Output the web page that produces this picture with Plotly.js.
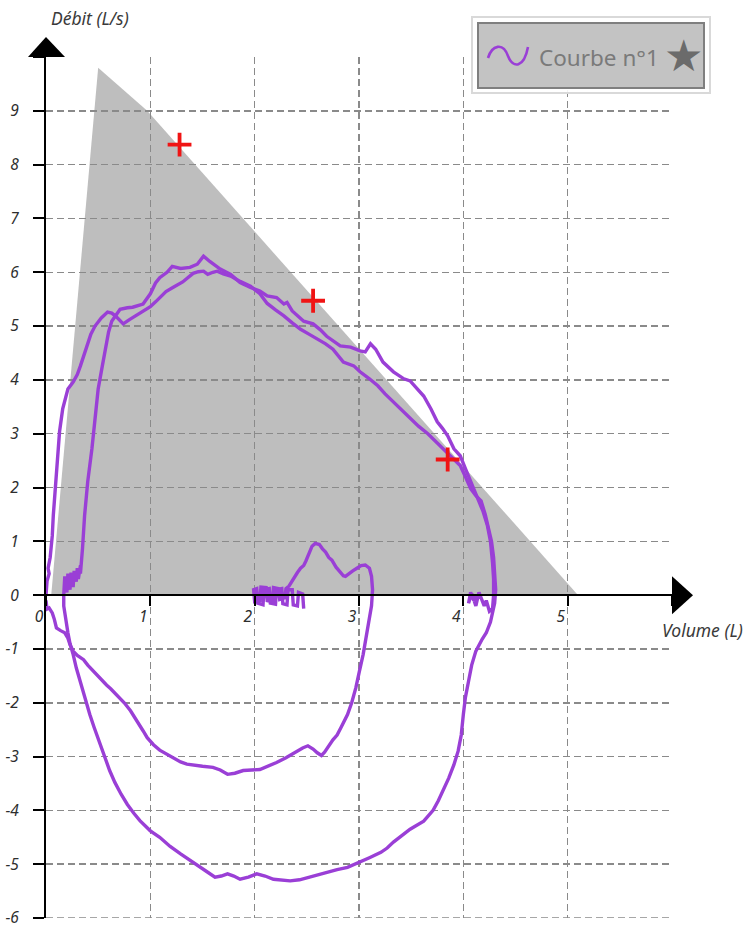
<!DOCTYPE html>
<html>
<head>
<meta charset="utf-8">
<script src="https://cdn.plot.ly/plotly-3.0.1.min.js"></script>
<style>html,body{margin:0;padding:0;background:#fff;}#chart{width:748px;height:929px;}</style>
</head>
<body>
<div id="chart"></div>
<script>
// ---- Data ----
// Tidal breathing, small expiration and first inspiration
const tidalVolume = [2.47,2.46,2.42,2.41,2.37,2.36,2.32,2.31,2.27,2.26,2.21,2.2,2.15,2.14,2.09,2.08,2.03,2.02,1.99,2.0,2.05,2.06,2.11,2.12,2.17,2.18,2.23,2.24,2.29,2.3,2.33,
 2.35,2.37,2.41,2.44,2.47,2.49,2.52,2.55,2.58,2.62,2.65,2.68,2.71,2.74,2.78,2.82,2.85,2.87,2.9,2.94,2.98,3.02,3.06,3.1,3.12,3.13,3.12,3.1,3.07,3.04,3.0,2.97,2.93,2.89,2.83,2.79,2.75,2.71,2.67,2.64,2.6,2.56,2.51,2.46,2.41,2.37,2.3,2.21,2.13,2.05,1.97,1.89,1.81,1.74,1.67,1.6,1.5,1.41,1.35,1.29,1.2,1.09,1.03,0.97,0.93,0.87,0.81,0.75,0.68,0.62,0.58,0.51,0.45,0.4,0.36,0.3,0.26,0.23,0.21,0.18,0.14,0.1,0.08,0.06,0.03,0.01,0.0];
const tidalFlow = [-0.25,0.02,0.05,-0.2,-0.18,0.1,0.1,-0.18,-0.16,0.12,0.1,-0.17,-0.15,0.12,0.1,-0.18,-0.15,0.12,0.1,-0.12,-0.1,0.15,0.14,-0.1,-0.12,0.14,0.12,-0.08,-0.05,0.12,0.17,
 0.24,0.31,0.42,0.5,0.55,0.63,0.78,0.91,0.96,0.94,0.86,0.8,0.7,0.65,0.52,0.44,0.36,0.35,0.4,0.45,0.5,0.55,0.56,0.5,0.35,0.1,-0.2,-0.45,-0.8,-1.1,-1.45,-1.72,-2.0,-2.22,-2.45,-2.6,-2.69,-2.82,-2.92,-2.98,-2.93,-2.86,-2.8,-2.84,-2.9,-2.95,-3.02,-3.11,-3.18,-3.24,-3.25,-3.26,-3.31,-3.33,-3.25,-3.2,-3.18,-3.15,-3.14,-3.1,-3.0,-2.88,-2.78,-2.65,-2.52,-2.33,-2.15,-2.0,-1.85,-1.74,-1.67,-1.53,-1.41,-1.3,-1.2,-1.12,-1.04,-0.92,-0.8,-0.7,-0.66,-0.61,-0.45,-0.33,-0.24,-0.26,-0.1];

// First forced expiration and full inspiration
const loop1Volume = [0.0,0.01,0.03,0.02,0.04,0.06,0.07,0.09,0.1,0.12,0.13,0.16,0.19,0.21,0.26,0.3,0.33,0.36,0.39,0.43,0.47,0.53,0.59,0.63,0.67,0.71,0.74,0.8,0.87,0.94,1.0,1.05,1.09,1.15,1.22,1.31,1.41,1.46,1.51,1.55,1.6,1.64,1.7,1.77,1.86,1.96,2.05,2.12,2.2,2.28,2.36,2.44,2.52,2.6,2.68,2.75,2.8,2.85,2.95,3.01,3.1,3.18,3.25,3.33,3.41,3.49,3.57,3.66,3.72,3.78,3.84,3.88,3.93,3.97,4.02,4.07,4.12,4.17,4.21,4.24,4.27,4.29,4.3,4.31,4.3,4.28,4.26,4.22,4.18,4.12,4.08,4.05,4.02,4.0,3.98,3.95,3.91,3.86,3.81,3.76,3.71,3.66,3.62,3.55,3.49,3.41,3.33,3.27,3.21,3.1,3.01,2.89,2.79,2.69,2.6,2.53,2.43,2.34,2.25,2.18,2.1,2.02,1.94,1.86,1.8,1.74,1.68,1.62,1.55,1.48,1.38,1.29,1.19,1.09,1.0,0.9,0.84,0.78,0.72,0.66,0.61,0.55,0.5,0.46,0.42,0.37,0.33,0.29,0.26,0.23,0.21,0.19,0.17,0.17];
const loop1Flow = [0.0,0.26,0.4,0.5,0.7,1.1,1.48,2.0,2.4,2.8,3.04,3.46,3.72,3.83,3.96,4.1,4.26,4.45,4.63,4.85,5.0,5.15,5.26,5.24,5.18,5.1,5.04,5.12,5.2,5.28,5.36,5.45,5.53,5.64,5.72,5.82,5.98,6.01,6.02,5.96,6.0,6.02,5.97,5.93,5.83,5.74,5.6,5.42,5.3,5.19,5.06,4.94,4.85,4.76,4.67,4.57,4.45,4.33,4.26,4.15,4.02,3.89,3.74,3.59,3.44,3.28,3.14,3.0,2.89,2.78,2.67,2.59,2.5,2.41,2.2,1.98,1.85,1.75,1.5,1.25,1.0,0.7,0.4,0.1,-0.15,-0.3,-0.5,-0.7,-0.82,-1.04,-1.3,-1.6,-1.9,-2.22,-2.6,-2.9,-3.15,-3.4,-3.63,-3.82,-4.0,-4.12,-4.2,-4.28,-4.35,-4.47,-4.59,-4.7,-4.78,-4.88,-4.96,-5.06,-5.1,-5.15,-5.2,-5.24,-5.29,-5.31,-5.29,-5.28,-5.22,-5.18,-5.24,-5.28,-5.22,-5.18,-5.22,-5.24,-5.15,-5.06,-4.94,-4.81,-4.67,-4.5,-4.38,-4.19,-4.05,-3.89,-3.7,-3.48,-3.26,-2.95,-2.7,-2.45,-2.22,-1.9,-1.6,-1.35,-1.1,-0.9,-0.7,-0.45,-0.2,0.0];

// Second forced expiration
const loop2Volume = [0.17,0.18,0.2,0.21,0.23,0.24,0.26,0.27,0.29,0.3,0.31,0.33,0.33,0.34,0.35,0.37,0.4,0.44,0.47,0.5,0.54,0.57,0.6,0.63,0.68,0.71,0.78,0.83,0.93,1.0,1.05,1.09,1.16,1.21,1.29,1.38,1.45,1.51,1.57,1.67,1.77,1.86,1.96,2.05,2.12,2.21,2.28,2.31,2.36,2.47,2.56,2.63,2.69,2.76,2.82,2.92,3.01,3.06,3.11,3.16,3.23,3.33,3.43,3.49,3.56,3.62,3.69,3.75,3.8,3.85,3.91,3.97,4.02,4.07,4.14,4.19,4.23,4.26,4.28,4.29,4.29,4.28,4.25,4.22,4.2,4.15,4.12,4.08,4.05,4.07,4.1,4.13];
const loop2Flow = [0.0,0.35,0.05,0.4,0.1,0.42,0.15,0.45,0.25,0.5,0.3,0.55,0.4,0.6,0.87,1.48,2.11,2.72,3.33,3.83,4.26,4.57,4.89,5.09,5.22,5.31,5.34,5.35,5.41,5.6,5.8,5.9,6.0,6.11,6.07,6.09,6.15,6.3,6.2,6.06,5.96,5.81,5.72,5.65,5.56,5.53,5.41,5.44,5.28,5.09,5.04,4.93,4.81,4.72,4.63,4.61,4.54,4.52,4.67,4.57,4.33,4.15,4.02,3.98,3.83,3.7,3.46,3.22,3.1,2.96,2.72,2.59,2.35,2.11,1.8,1.55,1.3,1.0,0.6,0.3,0.0,-0.25,-0.3,-0.1,-0.2,0.05,-0.2,0.03,-0.15,0.05,-0.1,0.0];

// Reference points (red crosses)
const refVolume = [1.28, 2.56, 3.85];
const refFlow = [8.37, 5.47, 2.52];

// Predicted area (gray)
const predVolume = [0.05, 0.5, 0.97, 5.1];
const predFlow = [0.0, 9.8, 9.0, 0.0];

// Ticks
const xTicks = [0, 1, 2, 3, 4, 5, 6];
const xTickText = ['0', '1', '2', '3', '4', '5', ''];
const yTicks = [-6, -5, -4, -3, -2, -1, 0, 1, 2, 3, 4, 5, 6, 7, 8, 9, 10];
const yTickText = ['-6', '-5', '-4', '-3', '-2', '-1', '0', '1', '2', '3', '4', '5', '6', '7', '8', '9', ''];

const seriesName = 'Courbe n°1';
const yTitle = 'Débit (L/s)';
const xTitle = 'Volume (L)';

// ---- Styling / layout ----
const PURPLE = '#9a3fd6';
const L = 46, T = 57, W = 626, H = 861;
const px = v => (v - L) / W;
const py = v => (T + H - v) / H;
const y0px = T + H * 10 / 16;   // pixel row of flow = 0

const lineStyle = {color: PURPLE, width: 3.4};
const traces = [
  {x: tidalVolume, y: tidalFlow, mode: 'lines', line: lineStyle, name: seriesName, showlegend: false, hoverinfo: 'skip'},
  {x: loop1Volume, y: loop1Flow, mode: 'lines', line: lineStyle, name: seriesName, showlegend: false, hoverinfo: 'skip'},
  {x: loop2Volume, y: loop2Flow, mode: 'lines', line: lineStyle, name: seriesName, showlegend: false, hoverinfo: 'skip'},
  {x: refVolume, y: refFlow, mode: 'markers', showlegend: false, hoverinfo: 'skip',
   marker: {symbol: 'cross-thin', size: 17, color: '#f01414', line: {color: '#f01414', width: 3.8}}}
];

let polyPath = '';
predVolume.forEach((v, i) => { polyPath += (i === 0 ? 'M ' : ' L ') + v + ',' + predFlow[i]; });
polyPath += ' Z';

const tickFont = {family: 'Noto Sans, Open Sans, sans-serif', size: 15.5, color: '#2e2e2e', style: 'italic'};
const gridStyle = {showgrid: true, gridcolor: '#8a8a8a', gridwidth: 1.5, griddash: '7px,4px'};
const titleFont = {family: 'Noto Sans, Open Sans, sans-serif', size: 17.5, color: '#3a3a3a', style: 'italic'};

const shapes = [
  {type: 'path', xref: 'x', yref: 'y', path: polyPath, fillcolor: '#bebebe', line: {width: 0}, layer: 'below'},
  // bottom grid line at -6
  {type: 'line', xref: 'x', yref: 'y', x0: xTicks[0], x1: xTicks[xTicks.length - 1], y0: yTicks[0], y1: yTicks[0],
   line: {color: '#8a8a8a', width: 1.5, dash: '7px,4px'}, layer: 'below'},
  // axis arrows
  {type: 'path', xref: 'paper', yref: 'paper', fillcolor: '#000', line: {width: 0},
   path: `M ${px(28)},${py(57)} L ${px(46)},${py(37)} L ${px(65)},${py(57)} Z`},
  {type: 'path', xref: 'paper', yref: 'paper', fillcolor: '#000', line: {width: 0},
   path: `M ${px(672)},${py(y0px - 19)} L ${px(693)},${py(y0px)} L ${px(672)},${py(y0px + 19)} Z`},
  // legend box
  {type: 'rect', xref: 'paper', yref: 'paper', x0: px(472), x1: px(710), y0: py(93), y1: py(17),
   fillcolor: 'rgba(255,255,255,0.9)', line: {color: '#d9d9d9', width: 2}},
  {type: 'rect', xref: 'paper', yref: 'paper', x0: px(478), x1: px(704), y0: py(88), y1: py(23),
   fillcolor: 'rgba(190,190,190,0.93)', line: {color: '#7f7f7f', width: 2}},
  {type: 'path', xref: 'paper', yref: 'paper', line: {color: PURPLE, width: 2.6},
   path: `M ${px(488)},${py(58)} C ${px(492)},${py(45)} ${px(503)},${py(42)} ${px(508)},${py(56)} C ${px(513)},${py(69)} ${px(524)},${py(68)} ${px(528)},${py(47)}`}
];

const annotations = [
  {text: yTitle, xref: 'paper', yref: 'paper', x: px(49), y: py(18), xanchor: 'left', yanchor: 'middle', showarrow: false, font: titleFont},
  {text: xTitle, xref: 'paper', yref: 'paper', x: px(660), y: py(y0px + 35), xanchor: 'left', yanchor: 'middle', showarrow: false, font: titleFont},
  {text: seriesName, xref: 'paper', yref: 'paper', x: px(537), y: py(57), xanchor: 'left', yanchor: 'middle', showarrow: false,
   font: {family: 'Noto Sans, Open Sans, sans-serif', size: 22.5, color: '#7a7a7a'}},
  {text: '★', xref: 'paper', yref: 'paper', x: px(683), y: py(55), xanchor: 'center', yanchor: 'middle', showarrow: false,
   font: {family: 'DejaVu Sans', size: 44, color: '#6b6b6b'}}
];

const layout = {
  width: 748, height: 929,
  margin: {l: L, r: 748 - L - W, t: T, b: 929 - T - H, pad: 0},
  paper_bgcolor: '#ffffff',
  plot_bgcolor: 'rgba(0,0,0,0)',
  showlegend: false,
  xaxis: Object.assign({
    range: [0, 6], tickmode: 'array', tickvals: xTicks, ticktext: xTickText,
    anchor: 'free', position: 0.375, showline: true, linecolor: '#000', linewidth: 2,
    ticks: 'outside', ticklen: 10, tickwidth: 2, tickcolor: '#000', zeroline: false,
    tickfont: tickFont, ticklabelshift: -7, ticklabelstandoff: -3, ticklabeloverflow: 'allow', fixedrange: true
  }, gridStyle),
  yaxis: Object.assign({
    range: [-6, 10], tickmode: 'array', tickvals: yTicks, ticktext: yTickText,
    showline: true, linecolor: '#000', linewidth: 2,
    ticks: 'outside', ticklen: 11, tickwidth: 2, tickcolor: '#000', zeroline: false,
    tickfont: tickFont, ticklabelstandoff: 11, ticklabeloverflow: 'allow', fixedrange: true
  }, gridStyle),
  xaxis2: {
    overlaying: 'x', range: [0, 6], anchor: 'free', position: 0.375, tickmode: 'array', tickvals: xTicks.slice(1, 6),
    ticks: 'inside', ticklen: 7, tickwidth: 2, tickcolor: '#000', showticklabels: false,
    showgrid: false, zeroline: false, showline: false, fixedrange: true
  },
  yaxis2: {
    overlaying: 'y', range: [-6, 10], anchor: 'free', position: 0, side: 'left', tickmode: 'array', tickvals: yTicks.slice(0, 16),
    ticks: 'inside', ticklen: 9, tickwidth: 2, tickcolor: '#000', showticklabels: false,
    showgrid: false, zeroline: false, showline: false, fixedrange: true
  },
  shapes: shapes,
  annotations: annotations
};

Plotly.newPlot('chart', traces, layout, {displayModeBar: false, staticPlot: true});
</script>
</body>
</html>
